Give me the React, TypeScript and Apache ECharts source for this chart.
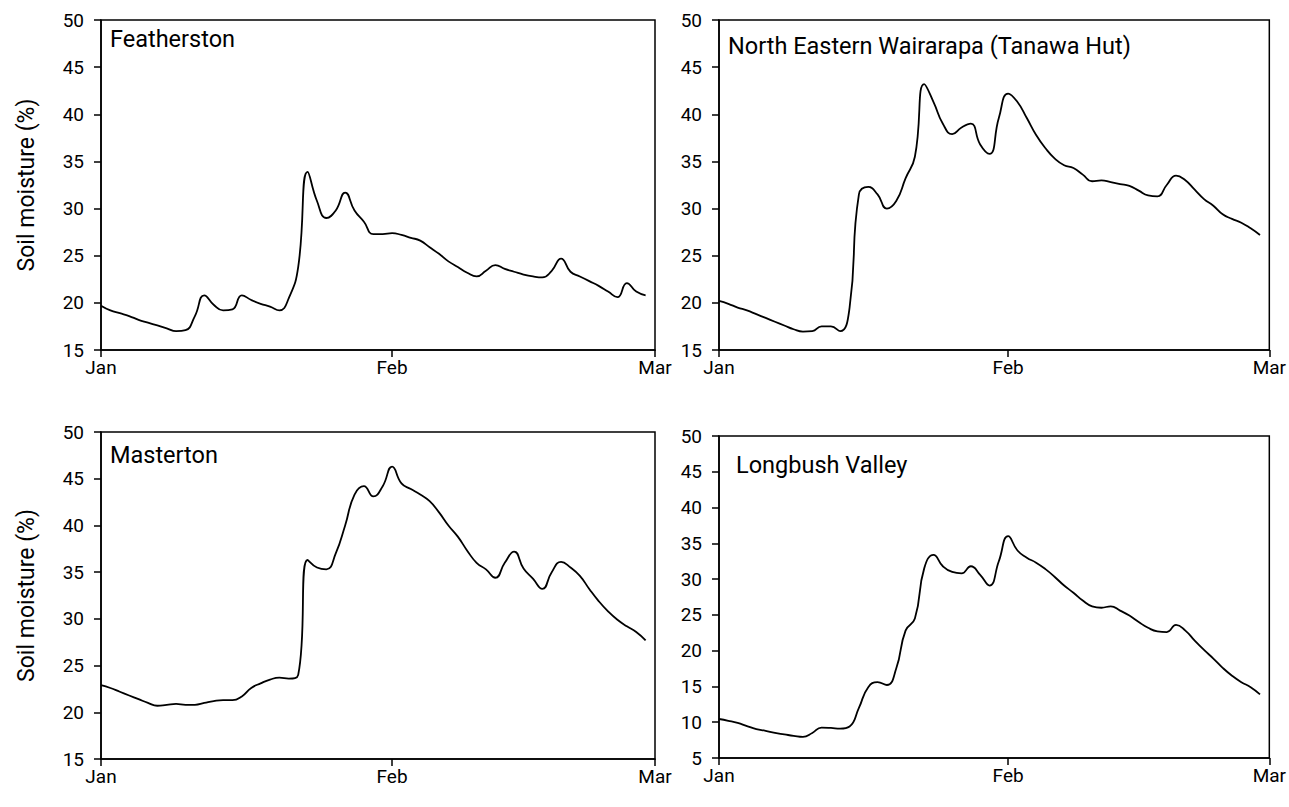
import React, { useEffect, useRef } from "react";
import * as echarts from "echarts";

const xTickDays = [0, 31, 59];
const xTickLabels = ["Jan", "Feb", "Mar"];
const yAxisTitle = "Soil moisture (%)";

const panelTitles = [
  "Featherston",
  "North Eastern Wairarapa (Tanawa Hut)",
  "Masterton",
  "Longbush Valley",
];

const featherston = [
  19.7, 19.2, 18.9, 18.6, 18.2, 17.9, 17.6, 17.3, 17.0, 17.1,
  18.6, 20.8, 19.8, 19.2, 19.3, 20.8, 20.3, 19.9, 19.6, 19.2,
  20.5, 23.8, 33.9, 30.8, 29.0, 29.8, 31.7, 29.8, 28.6, 27.3,
  27.3, 27.4, 27.2, 26.9, 26.6, 25.9, 25.2, 24.4, 23.8, 23.2,
  22.8, 23.4, 24.0, 23.6, 23.3, 23.0, 22.8, 22.7, 23.4, 24.7,
  23.3, 22.8, 22.3, 21.8, 21.2, 20.6, 22.1, 21.2, 20.8,
];

const tanawaHut = [
  20.2, 19.9, 19.5, 19.2, 18.8, 18.4, 18.0, 17.6, 17.2, 16.95,
  17.0, 17.5, 17.5, 17.0, 19.5, 31.5, 32.3, 31.5, 30.0, 30.8,
  33.2, 35.5, 43.2, 41.3, 39.0, 37.9, 38.6, 39.0, 36.8, 35.8,
  39.6, 42.2, 41.3, 39.6, 37.8, 36.4, 35.3, 34.6, 34.3, 33.6,
  32.9, 33.0, 32.8, 32.6, 32.4, 31.9, 31.4, 31.3, 32.5, 33.5,
  33.0, 32.0, 31.0, 30.3, 29.4, 28.9, 28.5, 27.9, 27.2,
];

const masterton = [
  22.9, 22.6, 22.2, 21.8, 21.4, 21.0, 20.7, 20.8, 20.9, 20.8,
  20.8, 21.0, 21.2, 21.3, 21.3, 21.7, 22.6, 23.1, 23.5, 23.7,
  23.6, 24.0, 36.3, 35.5, 35.3, 37.0, 40.0, 43.3, 44.2, 43.1,
  44.2, 46.3, 44.5, 43.9, 43.3, 42.6, 41.4, 40.0, 38.8, 37.3,
  36.0, 35.3, 34.4, 36.0, 37.2, 35.4, 34.3, 33.2, 35.0, 36.1,
  35.5, 34.6, 33.2, 31.9, 30.8, 29.9, 29.2, 28.6, 27.7,
];

const longbush = [
  10.45, 10.2, 9.9, 9.45, 9.05, 8.8, 8.5, 8.3, 8.1, 7.95,
  8.5, 9.25, 9.2, 9.1, 9.4, 12.0, 14.9, 15.6, 15.2, 17.5,
  22.8, 24.5, 31.5, 33.4, 31.8, 31.0, 30.8, 31.8, 30.6, 29.1,
  32.5, 36.0, 34.0, 33.0, 32.3, 31.4, 30.3, 29.1, 28.1, 27.0,
  26.2, 26.0, 26.2, 25.6, 24.9, 24.0, 23.2, 22.7, 22.6, 23.6,
  22.8, 21.4, 20.1, 18.9, 17.6, 16.5, 15.6, 14.9, 13.9,
];

const seriesValues = [featherston, tanawaHut, masterton, longbush];
const yMins = [15, 15, 15, 5];
const yMax = 50;
const yStep = 5;

const FONT = "Roboto, 'Liberation Sans', sans-serif";

export default function App() {
  const ref = useRef<HTMLDivElement>(null);

  useEffect(() => {
    if (!ref.current) return;
    const chart = echarts.init(ref.current, undefined, { renderer: "svg" });

    const grids = [
      { left: 101, top: 20, width: 554, height: 330 },
      { left: 719, top: 20, width: 554, height: 330 },
      { left: 101, top: 432, width: 554, height: 327 },
      { left: 719, top: 436, width: 554, height: 322 },
    ];
    const titlePos = [
      { left: 110, top: 27 },
      { left: 728, top: 34 },
      { left: 110, top: 443 },
      { left: 736, top: 453 },
    ];

    const option: any = {
      animation: false,
      backgroundColor: "#fff",
      title: panelTitles.map((t, i) => ({
        text: t,
        left: titlePos[i].left,
        top: titlePos[i].top,
        padding: 0,
        textStyle: {
          fontFamily: FONT,
          fontSize: 23.5,
          fontWeight: "normal",
          color: "#000",
        },
      })),
      grid: grids.map((g) => ({
        ...g,
        show: true,
        borderColor: "#000",
        borderWidth: 1.5,
        backgroundColor: "transparent",
      })),
      xAxis: grids.map((_, i) => ({
        type: "value",
        gridIndex: i,
        min: 0,
        max: 59,
        splitLine: { show: false },
        axisLine: { show: true, lineStyle: { color: "#000", width: 1.5 } },
        axisTick: {
          show: true,
          inside: false,
          length: 7,
          customValues: xTickDays,
          lineStyle: { color: "#000", width: 1.5 },
        },
        axisLabel: {
          customValues: xTickDays,
          showMinLabel: true,
          showMaxLabel: true,
          margin: 8,
          fontFamily: FONT,
          fontSize: 19,
          color: "#000",
          formatter: (v: number) => {
            const k = xTickDays.indexOf(Math.round(v));
            return k >= 0 ? xTickLabels[k] : "";
          },
        },
      })),
      yAxis: grids.map((_, i) => ({
        type: "value",
        gridIndex: i,
        min: yMins[i],
        max: yMax,
        interval: yStep,
        name: i % 2 === 0 ? yAxisTitle : "",
        nameLocation: "middle",
        nameGap: 63,
        nameTextStyle: { fontFamily: FONT, fontSize: 23, color: "#000" },
        splitLine: { show: false },
        axisLine: { show: true, lineStyle: { color: "#000", width: 1.5 } },
        axisTick: { show: true, length: 7, lineStyle: { color: "#000", width: 1.5 } },
        axisLabel: {
          margin: 17,
          fontFamily: FONT,
          fontSize: 19,
          color: "#000",
          showMinLabel: true,
          showMaxLabel: true,
        },
      })),
      series: seriesValues.map((vals, i) => ({
        type: "line",
        xAxisIndex: i,
        yAxisIndex: i,
        data: vals.map((v, d) => [d, v]),
        showSymbol: false,
        smooth: 0.5,
        lineStyle: { color: "#000", width: 1.8 },
        itemStyle: { color: "#000" },
      })),
    };

    chart.setOption(option);
    return () => chart.dispose();
  }, []);

  return (
    <div
      ref={ref}
      style={{ position: "fixed", left: 0, top: 0, width: 1289, height: 807, background: "#fff" }}
    />
  );
}
